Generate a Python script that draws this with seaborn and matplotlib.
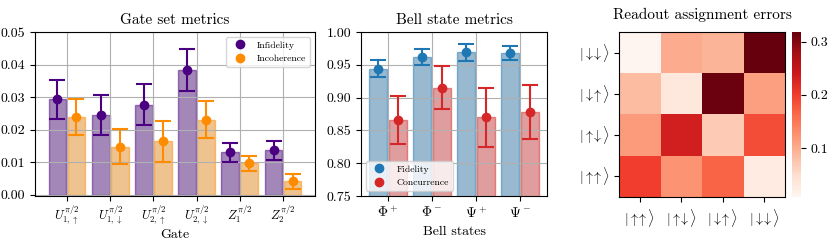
import numpy as np
import pandas as pd
import matplotlib
matplotlib.use("Agg")
import matplotlib.pyplot as plt
import seaborn as sns
from matplotlib.lines import Line2D
from matplotlib.ticker import FormatStrFormatter

plt.rcParams['font.family'] = 'serif'
plt.rcParams['font.serif'] = ['cmr10']
plt.rcParams['mathtext.fontset'] = 'cm'
plt.rcParams['axes.formatter.use_mathtext'] = True
plt.rcParams['axes.unicode_minus'] = False

# gate set metrics
gates = [r'$U_{1,\uparrow}^{\pi/2}$', r'$U_{1,\downarrow}^{\pi/2}$', r'$U_{2,\uparrow}^{\pi/2}$',
         r'$U_{2,\downarrow}^{\pi/2}$', r'$Z_1^{\pi/2}$', r'$Z_2^{\pi/2}$']
infidelity = [0.0294, 0.0245, 0.0277, 0.0384, 0.0130, 0.0136]
infidelity_err = [0.0060, 0.0062, 0.0062, 0.0064, 0.0028, 0.0029]
incoherence = [0.0238, 0.0147, 0.0164, 0.0231, 0.0096, 0.0041]
incoherence_err = [0.0056, 0.0054, 0.0064, 0.0058, 0.0024, 0.0023]

# bell state metrics
bell_states = [r'$\Phi^+$', r'$\Phi^-$', r'$\Psi^+$', r'$\Psi^-$']
fidelity = [0.944, 0.962, 0.969, 0.968]
fidelity_err = [0.013, 0.012, 0.013, 0.011]
concurrence = [0.866, 0.915, 0.870, 0.878]
concurrence_err = [0.037, 0.033, 0.045, 0.041]

# readout assignment errors (rows top to bottom)
states = [r'$|\uparrow\!\!\uparrow\rangle$', r'$|\uparrow\!\!\downarrow\rangle$',
          r'$|\downarrow\!\!\uparrow\rangle$', r'$|\downarrow\!\!\downarrow\rangle$']
readout = np.array([
    [0.008, 0.101, 0.092, 0.318],
    [0.085, 0.033, 0.315, 0.113],
    [0.116, 0.234, 0.070, 0.188],
    [0.200, 0.123, 0.169, 0.027],
])

fig = plt.figure(figsize=(8.3, 2.43), dpi=100)
ax1 = fig.add_axes([35/830, 47/243, 280/830, 164/243])
ax2 = fig.add_axes([361/830, 47/243, 186/830, 164/243])
ax3 = fig.add_axes([619/830, 46/243, 166/830, 165/243])
cax = fig.add_axes([792/830, 46/243, 9/830, 165/243])


def metric_panel(ax, cats, names, vals, errs, colors, loc, pad):
    df = pd.DataFrame({
        'cat': cats * 2,
        'metric': [names[0]] * len(cats) + [names[1]] * len(cats),
        'value': list(vals[0]) + list(vals[1]),
    })
    sns.barplot(data=df, x='cat', y='value', hue='metric', order=cats,
                palette=dict(zip(names, colors)), alpha=0.5, width=0.88, gap=0.07,
                errorbar=None, legend=False, ax=ax)
    for cont, v, e, c in zip(ax.containers, vals, errs, colors):
        xs = [p.get_x() + p.get_width() / 2 for p in cont]
        for p in cont:
            p.set_edgecolor(c)
            p.set_linewidth(1.0)
        ax.errorbar(xs, v, yerr=e, fmt='o', color=c, ms=6, elinewidth=1.5,
                    capsize=6, capthick=1.5, zorder=3)
    handles = [Line2D([], [], marker='o', ls='none', color=c, ms=6) for c in colors]
    ax.legend(handles, names, loc=loc, fontsize=7)
    ax.grid(True, color='#b0b0b0', lw=0.8)
    ax.set_xlim(-pad, len(cats) - 1 + pad)
    ax.tick_params(labelsize=10)


metric_panel(ax1, gates, ['Infidelity', 'Incoherence'], [infidelity, incoherence],
             [infidelity_err, incoherence_err], ['#4b0082', '#ff8c00'], 'upper right', 0.74)
ax1.set_ylim(-0.0004, 0.05)
ax1.set_yticks(np.arange(0, 0.051, 0.01))
ax1.yaxis.set_major_formatter(FormatStrFormatter('%.2f'))
ax1.tick_params(axis='x', labelsize=9, pad=2)
ax1.set_title('Gate set metrics', fontsize=11)
ax1.set_xlabel('Gate', fontsize=10, labelpad=1)
ax1.set_ylabel('')

metric_panel(ax2, bell_states, ['Fidelity', 'Concurrence'], [fidelity, concurrence],
             [fidelity_err, concurrence_err], ['tab:blue', 'tab:red'], 'lower left', 0.61)
ax2.set_ylim(0.75, 1.0)
ax2.set_yticks(np.arange(0.75, 1.001, 0.05))
ax2.yaxis.set_major_formatter(FormatStrFormatter('%.2f'))
ax2.set_title('Bell state metrics', fontsize=11)
ax2.set_xlabel('Bell states', fontsize=10)
ax2.set_ylabel('')

sns.heatmap(pd.DataFrame(readout, index=states[::-1], columns=states), cmap='Reds',
            ax=ax3, cbar_ax=cax, cbar_kws={'ticks': [0.1, 0.2, 0.3]})
for s in ax3.spines.values():
    s.set_visible(True)
ax3.set_title('Readout assignment errors', fontsize=11, pad=9)
ax3.tick_params(labelsize=10)
ax3.set_yticklabels(ax3.get_yticklabels(), rotation=0)
ax3.set_xticklabels(ax3.get_xticklabels(), rotation=0)
cax.tick_params(labelsize=10)
cax.yaxis.set_major_formatter(FormatStrFormatter('%.1f'))
ax3.collections[0].colorbar.outline.set_visible(True)

fig.savefig('out.png', dpi=100)
